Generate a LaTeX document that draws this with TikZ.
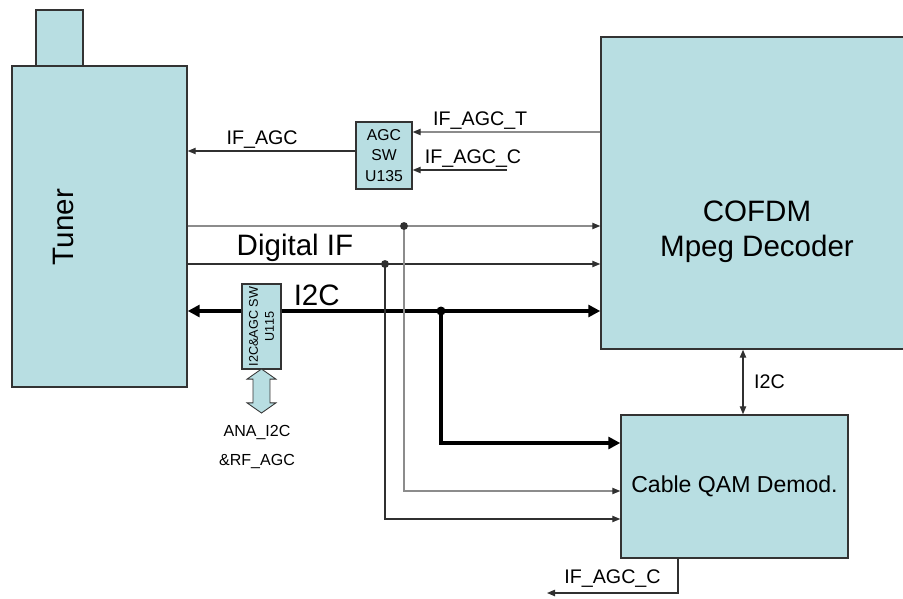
\documentclass[tikz,border=0pt]{standalone}
\usepackage{fontspec}
\setmainfont{Liberation Sans}
\usetikzlibrary{positioning,calc,arrows.meta,shapes.arrows}
\definecolor{boxfill}{HTML}{B8DEE2}
\definecolor{boxline}{HTML}{333333}
\definecolor{siggray}{HTML}{8C8C8C}
\definecolor{sigdark}{HTML}{303030}
\newcommand\lblbig{\fontsize{21}{25}\selectfont}
\newcommand\lblmid{\fontsize{16.4}{19}\selectfont}
\newcommand\lblsmall{\fontsize{14}{16}\selectfont}
\newcommand\lblchip{\fontsize{11.2}{14.3}\selectfont}
\newcommand\lbltiny{\fontsize{9}{11.4}\selectfont}
\tikzset{
  % --- blocks ---
  block/.style={draw=boxline, line width=1pt, fill=boxfill, inner sep=0pt,
                align=center},
  chip/.style={block, font=\lblchip},
  dblarrow/.style={double arrow, draw=boxline, fill=boxfill, line width=0.6pt,
                   rotate=90, inner xsep=0pt, inner ysep=2mm,
                   minimum height=11mm, double arrow head extend=1.5mm,
                   double arrow tip angle=110},
  % --- signal lines ---
  sig/.style={draw=sigdark, line width=0.8pt,
              -{Triangle[length=2mm,width=1.6mm]}},
  siglight/.style={draw=siggray, line width=0.8pt,
                   -{Triangle[length=2mm,width=1.6mm,color=sigdark]}},
  sigboth/.style={draw=sigdark, line width=0.8pt,
                  {Triangle[length=2mm,width=1.6mm]}-{Triangle[length=2mm,width=1.6mm]}},
  bus/.style={draw=black, line width=2.8pt,
              -{Triangle[length=3mm,width=3mm]}},
  lbl/.style={font=\lblsmall, inner sep=1.5pt},
}
\begin{document}
\begin{tikzpicture}[x=0.025cm, y=-0.025cm]
  \useasboundingbox (0,0) rectangle (903,599);
  % --- blocks ---
  \node[block, minimum width=11.75mm, minimum height=14mm] (antenna) at (59.5,38) {};
  \node[block, minimum width=43.75mm, minimum height=80.25mm] (tuner) at (99.5,226.5) {};
  \node[rotate=90, font=\lblbig] (tunerlbl) at (63,227) {Tuner};
  \node[block, minimum width=76.25mm, minimum height=78mm] (cofdm) at (753.5,193) {};
  \node[align=center, font=\lblbig] (cofdmlbl) at (757,232) {COFDM\\Mpeg Decoder};
  \node[block, font=\lblmid, minimum width=56.75mm, minimum height=35.75mm]
       (qam) at (734.5,486.5) {Cable QAM Demod.};
  \node[chip, minimum width=14mm, minimum height=16.75mm] (agcsw) at (384,155.5)
       {AGC\\SW\\U135};
  % rotated: north is the left side, south the right side
  \node[chip, font=\lbltiny, rotate=90, minimum width=21.25mm, minimum height=9.75mm]
       (i2csw) at (261.5,326.5) {I2C\&AGC SW\\U115};
  \node[dblarrow] (anaarrow) at (261.5,391) {};
  \node[align=center, font=\fontsize{11.4}{20}\selectfont] (anatext) at (257,447)
       {ANA\_I2C\\\&RF\_AGC};

  % --- rows and junctions ---
  \coordinate (rowT) at (0,132);
  \coordinate (rowA) at (0,151);
  \coordinate (rowC) at (0,170);
  \coordinate (agcCin) at (507,170);
  \coordinate (jA) at (404,226);
  \coordinate (jB) at (385,264);
  \coordinate (jI) at (441,311);
  \coordinate (rowQI) at (0,443);
  \coordinate (rowQA) at (0,491);
  \coordinate (rowQB) at (0,519);
  \coordinate (colI) at (743,0);
  \coordinate (colC) at (678,0);
  \coordinate (agcCout) at (547,593);

  % --- AGC switch ---
  \draw[siglight] (cofdm.west |- rowT) -- node[lbl, above, pos=0.64]{IF\_AGC\_T} (agcsw.east |- rowT);
  \draw[sig] (agcCin) -- node[lbl, above, pos=0.36]{IF\_AGC\_C} (agcsw.east |- rowC);
  \draw[sig] (agcsw.west |- rowA) -- node[lbl, above, pos=0.556]{IF\_AGC} (tuner.east |- rowA);

  % --- tuner to decoder ---
  \draw[siglight] (tuner.east |- jA) -- (cofdm.west |- jA);
  \draw[sig] (tuner.east |- jB) -- node[above, pos=0.26, font=\lblbig, inner sep=1pt]{Digital IF} (cofdm.west |- jB);
  \draw[bus] (i2csw.north |- jI) -- (tuner.east |- jI);
  \draw[bus] (i2csw.south |- jI) -- node[above, pos=0.11, font=\lblbig, inner sep=2pt]{I2C} (cofdm.west |- jI);

  % --- taps down to the QAM demodulator ---
  \draw[bus] (jI) |- (qam.west |- rowQI);
  \draw[siglight] (jA) |- (qam.west |- rowQA);
  \draw[sig] (jB) |- (qam.west |- rowQB);
  \fill[sigdark] (jA) circle[radius=2.8pt];
  \fill[sigdark] (jB) circle[radius=2.8pt];
  \fill[black] (jI) circle[radius=3.2pt];

  \draw[sigboth] (cofdm.south -| colI) -- node[lbl, right, xshift=6pt]{I2C} (qam.north -| colI);
  \draw[sig] (qam.south -| colC) |- node[lbl, above, pos=0.75, yshift=2pt]{IF\_AGC\_C} (agcCout);
\end{tikzpicture}
\end{document}
